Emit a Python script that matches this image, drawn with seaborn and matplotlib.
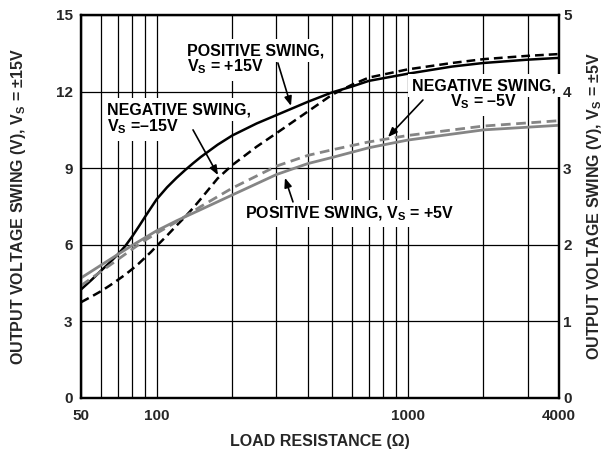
import matplotlib
matplotlib.use("Agg")
import matplotlib.pyplot as plt
from matplotlib.ticker import NullFormatter
import seaborn as sns

# load resistance (ohm) and output swing readings, Vs = +/-15V (left axis)
r_ohm_15 = [50, 55, 60, 65, 70, 75, 80, 85, 90, 95, 100, 110, 120, 130, 140, 150, 175, 200,
            250, 300, 400, 500, 600, 700, 1000, 1500, 2000, 3000, 4000]
pos_swing_15 = [4.25, 4.62, 4.98, 5.3, 5.62, 5.95, 6.33, 6.72, 7.1, 7.45, 7.78, 8.25, 8.62, 8.93, 9.2, 9.44, 9.92, 10.28,
                10.75, 11.08, 11.6, 11.97, 12.2, 12.42, 12.7, 12.98, 13.12, 13.25, 13.32]
neg_swing_15 = [3.75, 3.97, 4.18, 4.4, 4.62, 4.83, 5.05, 5.27, 5.5, 5.72, 5.95, 6.36, 6.75, 7.1, 7.45, 7.8, 8.6, 9.12,
                9.84, 10.37, 11.22, 11.88, 12.27, 12.55, 12.87, 13.12, 13.27, 13.4, 13.47]

# Vs = +/-5V (right axis)
r_ohm_5 = [50, 60, 70, 80, 90, 100, 120, 150, 200, 300, 400, 500, 700, 1000, 2000, 4000]
pos_swing_5 = [1.567, 1.733, 1.873, 1.993, 2.093, 2.183, 2.313, 2.46, 2.65, 2.917, 3.06, 3.14, 3.267, 3.367, 3.5, 3.56]
neg_swing_5 = [1.467, 1.65, 1.807, 1.943, 2.06, 2.15, 2.3, 2.5, 2.74, 3.027, 3.167, 3.24, 3.343, 3.427, 3.55, 3.62]

x_major = [50, 100, 1000, 4000]
x_minor = [60, 70, 80, 90, 200, 300, 400, 500, 600, 700, 800, 900, 2000, 3000]
y_left_ticks = [0, 3, 6, 9, 12, 15]
y_right_ticks = [0, 1, 2, 3, 4, 5]

sns.set_style("white")
plt.rcParams['font.family'] = ['Liberation Sans', 'DejaVu Sans']
plt.rcParams['font.weight'] = 'bold'
plt.rcParams['mathtext.fontset'] = 'custom'
plt.rcParams['mathtext.bf'] = 'Liberation Sans:bold'
plt.rcParams['mathtext.rm'] = 'Liberation Sans:bold'
plt.rcParams['mathtext.it'] = 'Liberation Sans:bold'
plt.rcParams['mathtext.default'] = 'bf'

fs_tick = 11
fs = 11.5
gray = '#858585'
dash = (0, (3.5, 2))

fig = plt.figure(figsize=(6.05, 4.5), dpi=100)
ax = fig.add_axes([0.1339, 0.1156, 0.7901, 0.8511])
ax2 = ax.twinx()

sns.lineplot(x=r_ohm_15, y=pos_swing_15, ax=ax, color='black', lw=1.8, estimator=None)
sns.lineplot(x=r_ohm_15, y=neg_swing_15, ax=ax, color='black', lw=1.8, linestyle=dash, estimator=None)
sns.lineplot(x=r_ohm_5, y=pos_swing_5, ax=ax2, color=gray, lw=2.0, estimator=None)
sns.lineplot(x=r_ohm_5, y=neg_swing_5, ax=ax2, color=gray, lw=2.0, linestyle=dash, estimator=None)

ax.set_xscale('log')
ax.set_xlim(50, 4000)
ax.set_ylim(0, 15)
ax2.set_ylim(0, 5)
ax.set_xticks(x_major)
ax.set_xticklabels([str(v) for v in x_major])
ax.set_xticks(x_minor, minor=True)
ax.xaxis.set_minor_formatter(NullFormatter())
ax.set_yticks(y_left_ticks)
ax2.set_yticks(y_right_ticks)

ax.grid(True, which='both', axis='x', color='black', lw=0.9)
ax.grid(True, which='major', axis='y', color='black', lw=0.9)
ax2.grid(False)
ax.tick_params(which='both', length=0, labelsize=fs_tick)
ax.tick_params(axis='y', pad=6)
ax.tick_params(axis='x', pad=8)
ax2.tick_params(which='both', length=0, labelsize=fs_tick, pad=3)
for a in (ax, ax2):
    for s in a.spines.values():
        s.set_color('black')
        s.set_linewidth(1.6)

ax.set_xlabel('LOAD RESISTANCE (Ω)', fontsize=fs, fontweight='bold')
ax.xaxis.set_label_coords(0.5, -0.093)
ax.set_ylabel('')
ax2.set_ylabel('')
fig.text(0.031, 0.542, 'OUTPUT VOLTAGE SWING (V), V$_S$ = ±15V', rotation=90,
         ha='center', va='center', fontsize=fs)
fig.text(0.982, 0.542, 'OUTPUT VOLTAGE SWING (V), V$_S$ = ±5V', rotation=90,
         ha='center', va='center', fontsize=fs)

box = dict(facecolor='white', edgecolor='none', pad=3)
labels = [
    ('POSITIVE SWING,', 132, 13.43, 'left'),
    ('V$_S$ = +15V', 132, 12.78, 'left'),
    ('NEGATIVE SWING,', 63.4, 11.12, 'left'),
    ('V$_S$ =–15V', 63.4, 10.43, 'left'),
    ('NEGATIVE SWING,', 2020, 12.06, 'center'),
    ('V$_S$ = –5V', 2000, 11.41, 'center'),
    ('POSITIVE SWING, V$_S$ = +5V', 225, 7.04, 'left'),
]
# white boxes first (to break the grid), then the text on top
for txt, x, y, ha in labels:
    ax2.text(x, y, txt, transform=ax.transData, ha=ha, va='baseline',
             fontsize=fs, color='white', bbox=box, zorder=4)
for txt, x, y, ha in labels:
    ax2.text(x, y, txt, transform=ax.transData, ha=ha, va='baseline',
             fontsize=fs, color='black', zorder=5)

arrows = [
    ((304, 13.12), (342.7, 11.44)),
    ((139.6, 10.50), (175.5, 8.73)),
    ((1149, 11.67), (834, 10.22)),
    ((349, 7.68), (324.3, 8.62)),
]
for tail, head in arrows:
    ax2.annotate('', xy=head, xytext=tail, xycoords=ax.transData, textcoords=ax.transData,
                 arrowprops=dict(arrowstyle='-|>,head_length=0.55,head_width=0.22',
                                 color='black', lw=1.2, shrinkA=0, shrinkB=0), zorder=6)

fig.savefig('out.png', dpi=100)
plt.close(fig)
